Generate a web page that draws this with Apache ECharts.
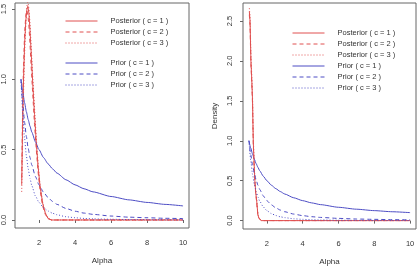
<!DOCTYPE html>
<html lang="en">
<head>
    <meta charset="UTF-8">
    <title>Posterior and prior densities of Alpha</title>
    <script src="https://cdn.jsdelivr.net/npm/echarts@6.0.0/dist/echarts.min.js"></script>
    <style>
        html, body { margin: 0; padding: 0; background: #fff; }
        #main { width: 418px; height: 266px; }
    </style>
</head>
<body>
    <div id="main"></div>

    <script>
        // prior densities (same in both panels)
        var priorX = [1, 1.1, 1.2, 1.3, 1.4, 1.5, 1.6, 1.8, 2, 2.25, 2.5, 2.75, 3, 3.5, 4, 4.5, 5, 6, 7, 8, 9, 10];
        var priorC1 = [1, 0.909, 0.833, 0.769, 0.714, 0.667, 0.625, 0.556, 0.5, 0.444, 0.4, 0.364, 0.333, 0.286, 0.25, 0.222, 0.2, 0.167, 0.143, 0.125, 0.111, 0.1];
        var priorC2 = [1, 0.826, 0.694, 0.592, 0.51, 0.444, 0.391, 0.309, 0.25, 0.198, 0.16, 0.132, 0.111, 0.082, 0.0625, 0.049, 0.04, 0.028, 0.02, 0.016, 0.012, 0.01];
        var priorC3 = [1, 0.751, 0.579, 0.455, 0.364, 0.296, 0.244, 0.171, 0.125, 0.088, 0.064, 0.048, 0.037, 0.023, 0.016, 0.011, 0.008, 0.005, 0.003, 0.002, 0.0014, 0.001];

        // left panel posteriors
        var leftPostX = [1.04, 1.08, 1.13, 1.2, 1.27, 1.33, 1.38, 1.44, 1.5, 1.57, 1.65, 1.75, 1.85, 1.95, 2.05, 2.2, 2.35, 2.5, 2.7, 10];
        var leftPost1 = [0.25, 0.6, 0.95, 1.25, 1.42, 1.5, 1.52, 1.47, 1.35, 1.18, 0.98, 0.75, 0.55, 0.38, 0.25, 0.12, 0.05, 0.01, 0, 0];
        var leftPost2 = [0.3, 0.7, 1.05, 1.33, 1.46, 1.49, 1.46, 1.38, 1.25, 1.08, 0.9, 0.68, 0.5, 0.34, 0.22, 0.1, 0.04, 0.01, 0, 0];
        var leftPost3 = [0.2, 0.5, 0.85, 1.18, 1.4, 1.52, 1.56, 1.5, 1.4, 1.22, 1.02, 0.8, 0.58, 0.4, 0.26, 0.13, 0.05, 0.015, 0, 0];

        // right panel posteriors
        var rightPostX = [1.02, 1.06, 1.11, 1.16, 1.2, 1.24, 1.29, 1.33, 1.38, 1.43, 1.5, 1.56, 1.62, 1.7, 10];
        var rightPost1 = [2.62, 2.5, 2.0, 1.75, 1.5, 1.0, 0.7, 0.5, 0.35, 0.25, 0.07, 0.03, 0.01, 0, 0];
        var rightPost2 = [2.58, 2.44, 1.95, 1.7, 1.45, 0.96, 0.66, 0.47, 0.33, 0.23, 0.06, 0.025, 0.008, 0, 0];
        var rightPost3 = [2.66, 2.56, 2.06, 1.8, 1.55, 1.05, 0.74, 0.53, 0.37, 0.27, 0.08, 0.035, 0.012, 0, 0];

        var xTicks = [2, 4, 6, 8, 10];
        var leftYTicks = [0, 0.5, 1, 1.5];
        var rightYTicks = [0, 0.5, 1, 1.5, 2, 2.5];

        var postNames = ['Posterior ( c = 1 )', 'Posterior ( c = 2 )', 'Posterior ( c = 3 )'];
        var priorNames = ['Prior ( c = 1 )', 'Prior ( c = 2 )', 'Prior ( c = 3 )'];

        var RED = '#e05050';
        var BLUE = '#4c4cc4';
        var FRAME = '#666';
        var FONT = 'Liberation Sans';
        var dashes = ['solid', [4, 3], [1, 2]];

        function pairs(xs, ys) {
            return xs.map(function (x, i) { return [x, ys[i]]; });
        }

        function xAxisFor(grid) {
            return {
                type: 'value', gridIndex: grid, min: 0.667, max: 10.33,
                name: 'Alpha', nameLocation: 'middle', nameGap: 29,
                nameTextStyle: { fontFamily: FONT, fontSize: 8, color: '#333' },
                axisLine: { show: false },
                splitLine: { show: false },
                axisTick: { show: true, length: 3, customValues: xTicks, lineStyle: { color: FRAME } },
                axisLabel: { customValues: xTicks, margin: 11, fontFamily: FONT, fontSize: 7.5, color: '#333' }
            };
        }

        function yAxisFor(grid, min, max, ticks, name, margin) {
            return {
                type: 'value', gridIndex: grid, min: min, max: max,
                name: name, nameLocation: 'middle', nameGap: 24,
                nameTextStyle: { fontFamily: FONT, fontSize: 8, color: '#333' },
                axisLine: { show: false },
                splitLine: { show: false },
                axisTick: { show: true, length: 3, customValues: ticks, lineStyle: { color: FRAME } },
                axisLabel: {
                    customValues: ticks, rotate: 90, margin: margin,
                    fontFamily: FONT, fontSize: 7.5, color: '#333',
                    formatter: function (v) { return v.toFixed(1); }
                }
            };
        }

        function line(name, grid, data, color, k, smooth) {
            return {
                name: name, type: 'line', xAxisIndex: grid, yAxisIndex: grid,
                data: data, symbol: 'none', showSymbol: false, smooth: smooth ? 0.2 : false,
                smoothMonotone: 'x', animation: false,
                lineStyle: { color: color, width: 1, type: dashes[k] },
                itemStyle: { color: color }
            };
        }

        var series = [];
        var leftPosts = [leftPost1, leftPost2, leftPost3];
        var rightPosts = [rightPost1, rightPost2, rightPost3];
        var priors = [priorC1, priorC2, priorC3];
        for (var k = 0; k < 3; k++) {
            series.push(line(postNames[k], 0, pairs(leftPostX, leftPosts[k]), RED, k, false));
            series.push(line(priorNames[k], 0, pairs(priorX, priors[k]), BLUE, k, true));
            series.push(line(postNames[k], 1, pairs(rightPostX, rightPosts[k]), RED, k, false));
            series.push(line(priorNames[k], 1, pairs(priorX, priors[k]), BLUE, k, true));
        }

        var legendBase = {
            orient: 'vertical', padding: 0, itemWidth: 32, itemHeight: 8, itemGap: 3,
            selectedMode: false,
            itemStyle: { opacity: 0 },
            lineStyle: { width: 1 },
            textStyle: { fontFamily: FONT, fontSize: 7.5, color: '#333', padding: [0, 0, 0, 8] }
        };

        var chart = echarts.init(document.getElementById('main'));
        chart.setOption({
            animation: false,
            grid: [
                { left: 15, top: 3, width: 174, height: 225, show: true, borderColor: FRAME, borderWidth: 1, outerBoundsMode: 'none' },
                { left: 243, top: 3, width: 173, height: 226, show: true, borderColor: FRAME, borderWidth: 1, outerBoundsMode: 'none' }
            ],
            xAxis: [xAxisFor(0), xAxisFor(1)],
            yAxis: [
                yAxisFor(0, -0.057, 1.543, leftYTicks, '', 7),
                yAxisFor(1, -0.105, 2.725, rightYTicks, 'Density', 9)
            ],
            legend: [
                Object.assign({}, legendBase, { left: 65, top: 17, data: postNames }),
                Object.assign({}, legendBase, { left: 65, top: 59, data: priorNames }),
                Object.assign({}, legendBase, { left: 292, top: 29, data: postNames.concat(priorNames) })
            ],
            series: series
        });
    </script>
</body>
</html>
